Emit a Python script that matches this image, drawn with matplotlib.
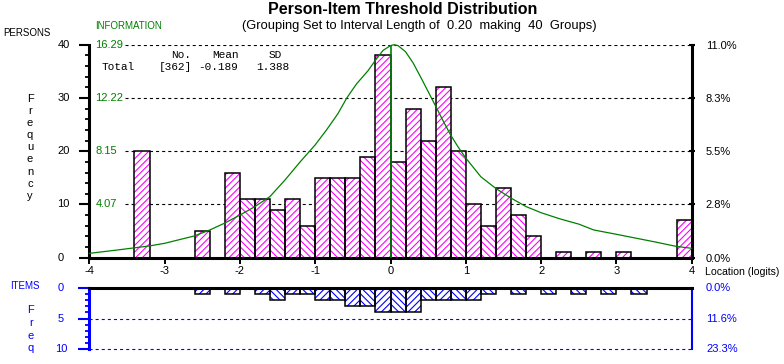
"""
Person-item threshold distribution (RUMM style): persons histogram with the
test information curve on top, item thresholds hanging below.
"""
import matplotlib
matplotlib.use("Agg")
import matplotlib.pyplot as plt
import matplotlib.transforms as mtransforms
import numpy as np

plt.rcParams["font.family"] = ["Liberation Sans", "DejaVu Sans"]
plt.rcParams["hatch.linewidth"] = 0.8
plt.rcParams["lines.scale_dashes"] = False

W, H = 784, 364
GREEN = "#008000"
MAGENTA = "#ff00ff"
BLUE = "#0000ff"

# grouping (from the subtitle)
BIN_START = -4.0
BIN_WIDTH = 0.20
N_GROUPS = 40

# persons per group, group k covers BIN_START + k*BIN_WIDTH
person_counts = [0, 0, 0, 20, 0, 0, 0, 5, 0, 16,
                 11, 11, 9, 11, 6, 15, 15, 15, 19, 38,
                 18, 28, 22, 32, 20, 10, 6, 13, 8, 4,
                 0, 1, 0, 1, 0, 1, 0, 0, 0, 7]
# item thresholds per group
item_counts = [0, 0, 0, 0, 0, 0, 0, 1, 0, 1,
               0, 1, 2, 1, 1, 2, 2, 3, 3, 4,
               4, 4, 2, 2, 2, 2, 1, 0, 1, 0,
               1, 0, 1, 0, 1, 0, 1, 0, 0, 0]

# test information function
curve_logit = [-4.0, -3.6, -3.2, -3.0, -2.6, -2.4, -2.2, -2.0, -1.8, -1.6,
               -1.4, -1.2, -1.0, -0.85, -0.7, -0.58, -0.45, -0.3, -0.2, -0.1,
               0.0, 0.05, 0.1, 0.2, 0.3, 0.42, 0.58, 0.7, 0.8, 0.9,
               1.0, 1.2, 1.4, 1.6, 1.8, 2.0, 2.25, 2.5, 2.7, 3.0,
               3.5, 3.8, 4.0]
curve_info = [0.33, 0.61, 0.90, 1.10, 1.67, 2.12, 2.65, 3.26, 3.91, 4.68,
              5.95, 7.33, 8.63, 9.77, 11.00, 12.22, 13.30, 14.29, 15.10, 15.85,
              16.22, 16.29, 16.22, 15.75, 14.90, 13.60, 11.81, 10.45, 9.37, 8.45,
              7.62, 6.19, 5.29, 4.56, 3.91, 3.44, 2.97, 2.57, 2.12, 1.79,
              1.22, 0.86, 0.72]
info_max = 16.29
info_labels = ["16.29", "12.22", "8.15", "4.07"]
item_mean = 0.0

person_ticks = [0, 10, 20, 30, 40]
item_ticks = [0, 5, 10]
x_ticks = [-4, -3, -2, -1, 0, 1, 2, 3, 4]
n_persons, p_mean, p_sd = 362, -0.189, 1.388
n_items = sum(item_counts)

centers = BIN_START + BIN_WIDTH * (np.arange(N_GROUPS) + 0.5)

fig = plt.figure(figsize=(W / 100, H / 100), dpi=100)
X0, X1 = 89.3, 691.7
ax = fig.add_axes([X0 / W, 1 - 257.7 / H, (X1 - X0) / W, (257.7 - 44.7) / H])
axi = fig.add_axes([X0 / W, 1 - 349.3 / H, (X1 - X0) / W, (349.3 - 287.7) / H])


def ftext(xpx, ypx, s, **kw):
    fig.text(xpx / W, 1 - ypx / H, s, **kw)


def hatched_bars(a, counts, hcolor):
    counts = np.asarray(counts)
    for parity, hatch in ((1, "/////"), (0, "\\\\\\\\\\")):
        sel = (np.arange(N_GROUPS) % 2 == parity) & (counts > 0)
        a.bar(centers[sel], counts[sel], BIN_WIDTH, facecolor="white",
              edgecolor=hcolor, linewidth=0, hatch=hatch, zorder=2)
        a.bar(centers[sel], counts[sel], BIN_WIDTH, fill=False,
              edgecolor="black", linewidth=1.1, zorder=3)


# ---- persons panel
hatched_bars(ax, person_counts, MAGENTA)
top = person_ticks[-1]
scale = top / info_max
ax.plot(curve_logit, np.array(curve_info) * scale, color=GREEN, lw=0.9,
        zorder=4, clip_on=False)
ax.axvline(item_mean, color=GREEN, lw=1.2, zorder=5)
gx = (125 - X0) / (X1 - X0)
for y in person_ticks[1:]:
    ax.axhline(y, xmin=gx, xmax=1, color="black", lw=0.8,
               ls=(0, (2.2, 2.2)), zorder=1)

ax.set_xlim(BIN_START, BIN_START + BIN_WIDTH * N_GROUPS)
ax.set_ylim(0, top)
ax.spines["top"].set_visible(False)
for s in ("left", "right", "bottom"):
    ax.spines[s].set_linewidth(2.2)
ax.set_yticks(person_ticks)
ax.set_yticks(np.arange(0, top + 1, 2), minor=True)
ax.set_xticks(x_ticks)
ax.tick_params(axis="y", which="major", direction="out", length=7.5,
               width=1.5, labelleft=False)
ax.tick_params(axis="y", which="minor", direction="out", length=2.6,
               width=1.3)
ax.tick_params(axis="x", direction="out", length=4.3, width=1.4,
               labelbottom=False)
axr = ax.twinx()
axr.set_ylim(0, top)
axr.set_yticks(person_ticks)
axr.set_yticklabels([f"{100 * v / n_persons:.1f}%" for v in person_ticks])
axr.tick_params(axis="y", direction="inout", length=4.3, width=1.5,
                pad=8.1, labelsize=8)
for s in axr.spines.values():
    s.set_visible(False)

yl = mtransforms.blended_transform_factory(fig.transFigure, ax.transData)
for v in person_ticks:
    ax.text(57.5 / W, v, str(v), transform=yl, ha="left", va="center",
            fontsize=8)
for v, lab in zip(person_ticks[::-1], info_labels):
    ax.text(95.3 / W, v, lab, transform=yl, ha="left", va="center",
            fontsize=8, color=GREEN)
xl = mtransforms.blended_transform_factory(ax.transData, fig.transFigure)
for v in x_ticks:
    ax.text(v, 1 - 270.5 / H, str(v), transform=xl, ha="center",
            va="center", fontsize=8)

# ---- items panel
hatched_bars(axi, item_counts, BLUE)
for y in item_ticks[1:]:
    axi.axhline(y, color=BLUE, lw=0.8, ls=(0, (2.2, 2.2)), zorder=1,
                clip_on=False)
axi.set_xlim(ax.get_xlim())
axi.set_ylim(item_ticks[-1], 0)
axi.spines["bottom"].set_visible(False)
axi.spines["top"].set_linewidth(2.2)
axi.spines["top"].set_color("black")
axi.spines["top"].set_zorder(6)
axi.spines["left"].set_linewidth(2.2)
axi.spines["left"].set_color(BLUE)
axi.spines["right"].set_linewidth(1.5)
axi.spines["right"].set_color(BLUE)
axi.set_xticks([])
axi.set_yticks(item_ticks)
axi.set_yticks(np.arange(0, item_ticks[-1] + 1, 1), minor=True)
axi.tick_params(axis="y", which="major", direction="out", length=7.9,
                width=1.5, color=BLUE, labelleft=False)
axi.tick_params(axis="y", which="minor", direction="out", length=3.0,
                width=1.3, color=BLUE)
yi = mtransforms.blended_transform_factory(fig.transFigure, axi.transData)
for v in item_ticks:
    axi.text(61 / W, v, str(v), transform=yi, ha="center", va="center",
             fontsize=8, color=BLUE)
    axi.text(706 / W, v, f"{100 * v / n_items:.1f}%", transform=yi,
             ha="left", va="center", fontsize=8, color=BLUE)

# ---- texts
ftext(403, 10, "Person-Item Threshold Distribution", ha="center",
      va="center", fontsize=11.5, fontweight="bold")
ftext(419, 26, "(Grouping Set to Interval Length of  0.20  making  40  Groups)",
      ha="center", va="center", fontsize=9.3)
ftext(3.5, 32.7, "PERSONS", ha="left", va="center", fontsize=7)
ftext(95.5, 25.7, "INFORMATION", ha="left", va="center", fontsize=7,
      color=GREEN)
ftext(705, 271.7, "Location (logits)", ha="left", va="center", fontsize=7.6)
ftext(10, 286, "ITEMS", ha="left", va="center", fontsize=7, color=BLUE)
for i, ch in enumerate("Frequency"):
    ftext(30, 99 + 12.1 * i, ch, ha="center", va="center", fontsize=8)
for i, ch in enumerate("Freq"):
    ftext(30.7, 310 + 12.8 * i, ch, ha="center", va="center", fontsize=8,
          color=BLUE)

mono = dict(family=["Liberation Mono", "DejaVu Sans Mono"], fontsize=8,
            va="center", ha="left")
ftext(170.7, 54.7, "No.", **mono)
ftext(212.7, 54.7, "Mean", **mono)
ftext(269, 54.7, "SD", **mono)
ftext(101.7, 66.7, "Total", **mono)
ftext(159, 66.7, f"[{n_persons}]", **mono)
ftext(198.3, 66.7, f"{p_mean:.3f}", **mono)
ftext(255.7, 66.7, f"{p_sd:.3f}", **mono)

fig.savefig("out.png", dpi=100)
